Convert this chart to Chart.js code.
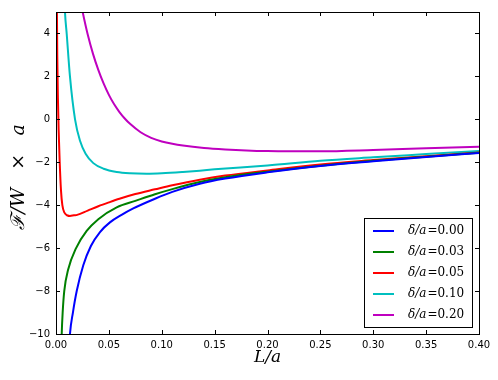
<!DOCTYPE html>
<html>
<head>
  <title>Free energy vs L/a</title>
  <script src="https://cdn.jsdelivr.net/npm/chart.js"></script>
</head>
<style>
  html, body { margin: 0; padding: 0; background: #fff; }
  .chart-container { width: 498px; height: 380px; position: relative; }
</style>
<body>
  <div class="chart-container">
    <canvas id="chart"></canvas>
  </div>

  <script>
    // curves, one L/a array and one F/W*a array per delta
    const seriesLabels = ["0.00", "0.03", "0.05", "0.10", "0.20"];
    const seriesColors = ["#0000ff", "#008000", "#ff0000", "#00bfbf", "#bf00bf"];

    const blueL = [0.0125, 0.0132, 0.016, 0.0196, 0.0258, 0.033, 0.0416, 0.051, 0.062, 0.0731, 0.0936, 0.11, 0.136, 0.16, 0.2, 0.25, 0.3, 0.35, 0.4];
    const blueF = [-10.6, -10, -9.0, -8.0, -6.8, -5.9, -5.25, -4.8, -4.45, -4.15, -3.7, -3.38, -3.0, -2.76, -2.47, -2.17, -1.95, -1.75, -1.57];

    const greenL = [0.005, 0.0054, 0.0063, 0.0078, 0.0115, 0.019, 0.029, 0.04, 0.0574, 0.075, 0.0936, 0.11, 0.136, 0.16, 0.2, 0.25, 0.3, 0.35, 0.4];
    const greenF = [-10.8, -10, -9, -8, -7, -6, -5.2, -4.65, -4.1, -3.8, -3.49, -3.25, -2.92, -2.7, -2.44, -2.16, -1.93, -1.74, -1.56];

    const redL = [0.0008, 0.0012, 0.0018, 0.0025, 0.0035, 0.0047, 0.006, 0.008, 0.011, 0.0132, 0.017, 0.02, 0.03, 0.04, 0.05, 0.06, 0.075, 0.0936, 0.11, 0.136, 0.16, 0.2, 0.25, 0.3, 0.35, 0.4];
    const redF = [5.5, 3, 1, -0.5, -2, -3.3, -4.0, -4.35, -4.48, -4.5, -4.47, -4.45, -4.25, -4.05, -3.87, -3.7, -3.48, -3.26, -3.07, -2.81, -2.62, -2.38, -2.1, -1.9, -1.72, -1.55];

    const cyanL = [0.0078, 0.0085, 0.0101, 0.0132, 0.018, 0.0227, 0.028, 0.0353, 0.045, 0.0574, 0.07, 0.0857, 0.1, 0.12, 0.136, 0.15, 0.2, 0.25, 0.3, 0.35, 0.4];
    const cyanF = [6, 5, 4, 2, 0, -1, -1.6, -2.04, -2.3, -2.45, -2.51, -2.53, -2.51, -2.45, -2.39, -2.33, -2.15, -1.93, -1.77, -1.62, -1.47];

    const magentaL = [0.022, 0.025, 0.03, 0.035, 0.04, 0.045, 0.05, 0.055, 0.06, 0.065, 0.07, 0.08, 0.09, 0.1, 0.11, 0.12, 0.14, 0.16, 0.18, 0.2, 0.22, 0.25, 0.3, 0.35, 0.4];
    const magentaF = [5.8, 5.05, 3.95, 3.05, 2.3, 1.67, 1.14, 0.7, 0.34, 0.04, -0.21, -0.6, -0.86, -1.03, -1.14, -1.22, -1.33, -1.4, -1.45, -1.48, -1.49, -1.49, -1.43, -1.35, -1.28];

    const xTicks = [0, 0.05, 0.10, 0.15, 0.20, 0.25, 0.30, 0.35, 0.40];
    const yTicks = [-10, -8, -6, -4, -2, 0, 2, 4];

    const allL = [blueL, greenL, redL, cyanL, magentaL];
    const allF = [blueF, greenF, redF, cyanF, magentaF];

    const datasets = allL.map((ls, i) => ({
      label: seriesLabels[i],
      data: ls.map((l, j) => ({ x: l, y: allF[i][j] })),
      borderColor: seriesColors[i],
      backgroundColor: seriesColors[i],
      borderWidth: 2,
      pointRadius: 0,
      cubicInterpolationMode: "monotone",
      fill: false,
    }));

    // matplotlib style: box, inward ticks on all sides, legend, axis titles
    const decorations = {
      id: "decorations",
      afterDraw(chart) {
        const ctx = chart.ctx;
        const a = chart.chartArea;
        const xs = chart.scales.x;
        const ys = chart.scales.y;
        ctx.save();
        ctx.strokeStyle = "#000";
        ctx.lineWidth = 1;
        ctx.beginPath();
        xTicks.forEach((t) => {
          const px = Math.round(xs.getPixelForValue(t)) + 0.5;
          ctx.moveTo(px, a.bottom); ctx.lineTo(px, a.bottom - 4);
          ctx.moveTo(px, a.top); ctx.lineTo(px, a.top + 4);
        });
        yTicks.forEach((t) => {
          const py = Math.round(ys.getPixelForValue(t)) + 0.5;
          ctx.moveTo(a.left, py); ctx.lineTo(a.left + 4, py);
          ctx.moveTo(a.right, py); ctx.lineTo(a.right - 4, py);
        });
        ctx.stroke();
        ctx.strokeRect(Math.round(a.left) + 0.5, Math.round(a.top) + 0.5,
          Math.round(a.right - a.left), Math.round(a.bottom - a.top));

        // legend box in the lower right
        const lx = 364, ly = 218, lw = 108, lh = 109;
        ctx.fillStyle = "#fff";
        ctx.fillRect(lx, ly, lw, lh);
        ctx.strokeRect(lx + 0.5, ly + 0.5, lw, lh);
        ctx.textBaseline = "middle";
        chart.data.datasets.forEach((ds, i) => {
          const y = ly + 13 + i * 21;
          ctx.strokeStyle = ds.borderColor;
          ctx.lineWidth = 2;
          ctx.beginPath();
          ctx.moveTo(373, y); ctx.lineTo(394, y);
          ctx.stroke();
          ctx.fillStyle = "#000";
          ctx.textAlign = "left";
          ctx.font = "italic 12px 'DejaVu Serif'";
          ctx.fillText("\u03b4/a", 408, y);
          const w = ctx.measureText("\u03b4/a").width;
          ctx.font = "12px 'DejaVu Serif'";
          ctx.fillText("=" + ds.label, 408 + w + 1, y);
        });

        // axis titles
        ctx.fillStyle = "#000";
        ctx.textAlign = "center";
        ctx.font = "italic 17px 'DejaVu Serif'";
        ctx.fillText("L/a", (a.left + a.right) / 2, 358);
        ctx.translate(19, (a.top + a.bottom) / 2 + 4);
        ctx.rotate(-Math.PI / 2);
        ctx.font = "italic 19px 'DejaVu Serif'";
        ctx.fillText("\u2131/W   \u00d7   a", 0, 0);
        ctx.restore();
      },
    };

    new Chart("chart", {
      type: "line",
      data: { datasets: datasets },
      options: {
        responsive: true,
        maintainAspectRatio: false,
        animation: false,
        layout: { padding: { top: 6, right: 19, left: 0, bottom: 0 } },
        plugins: { legend: { display: false }, tooltip: { enabled: false } },
        scales: {
          x: {
            type: "linear",
            min: 0,
            max: 0.4,
            afterFit: (s) => { s.height = 46; },
            afterBuildTicks: (s) => { s.ticks = xTicks.map((v) => ({ value: v })); },
            grid: { display: false, drawTicks: false },
            border: { display: false },
            ticks: {
              padding: 5,
              color: "#000",
              font: { family: "DejaVu Sans", size: 10 },
              callback: (v) => v.toFixed(2),
              maxRotation: 0,
            },
          },
          y: {
            type: "linear",
            min: -10,
            max: 5,
            afterFit: (s) => { s.width = 56; },
            afterBuildTicks: (s) => { s.ticks = yTicks.map((v) => ({ value: v })); },
            grid: { display: false, drawTicks: false },
            border: { display: false },
            ticks: {
              padding: 6,
              color: "#000",
              font: { family: "DejaVu Sans", size: 10 },
              callback: (v) => (v < 0 ? "\u2212" + Math.abs(v) : String(v)),
            },
          },
        },
      },
      plugins: [decorations],
    });
  </script>
</body>
</html>
